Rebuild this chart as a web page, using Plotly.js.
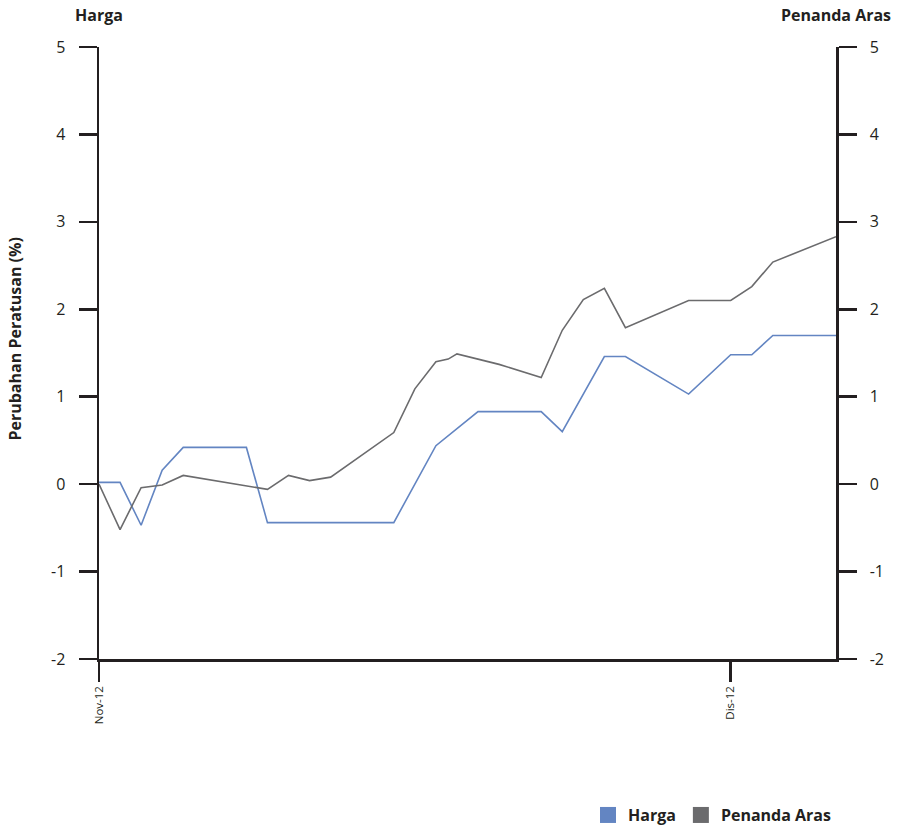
<!DOCTYPE html>
<html>
<head>
<meta charset="utf-8">
<script src="https://cdn.plot.ly/plotly-3.0.1.min.js"></script>
<style>html,body{margin:0;padding:0;background:#fff;}#chart{width:898px;height:829px;}</style>
</head>
<body>
<div id="chart"></div>
<script>
const hargaDates = ['2012-11-01','2012-11-02','2012-11-03','2012-11-04','2012-11-05','2012-11-08','2012-11-09','2012-11-15','2012-11-17','2012-11-19','2012-11-22','2012-11-23','2012-11-25','2012-11-26','2012-11-29','2012-12-01','2012-12-02','2012-12-03','2012-12-06'];
const hargaValues = [0.02,0.02,-0.47,0.16,0.42,0.42,-0.44,-0.44,0.44,0.83,0.83,0.60,1.46,1.46,1.03,1.48,1.48,1.70,1.70];

const arasDates = ['2012-11-01','2012-11-02','2012-11-03','2012-11-04','2012-11-05','2012-11-09','2012-11-10','2012-11-11','2012-11-12','2012-11-15','2012-11-16','2012-11-17','2012-11-17 14:00','2012-11-18','2012-11-20','2012-11-22','2012-11-23','2012-11-24','2012-11-25','2012-11-26','2012-11-29','2012-12-01','2012-12-02','2012-12-03','2012-12-06'];
const arasValues = [0.00,-0.52,-0.04,-0.01,0.10,-0.06,0.10,0.04,0.08,0.59,1.09,1.40,1.43,1.49,1.37,1.22,1.76,2.11,2.24,1.79,2.10,2.10,2.26,2.54,2.83];

const xTickVals = ['2012-11-01','2012-12-01'];
const xTickText = ['Nov-12','Dis-12'];
const yTickVals = [-2,-1,0,1,2,3,4,5];
const yTickText = ['-2','-1','0','1','2','3','4','5'];

const seriesNames = ['Harga','Penanda Aras'];
const colors = ['#6385c2','#6b6b6d'];

const FONT = 'Open Sans, Noto Sans, sans-serif';
const axisColor = '#231f20';

const traces = [
  {x: hargaDates, y: hargaValues, type:'scatter', mode:'lines', name: seriesNames[0],
   line:{color:colors[0], width:1.6}, showlegend:false, yaxis:'y'},
  {x: arasDates, y: arasValues, type:'scatter', mode:'lines', name: seriesNames[1],
   line:{color:colors[1], width:1.6}, showlegend:false, yaxis:'y2'},
  {x:[null], y:[null], type:'scatter', mode:'markers', name: seriesNames[0],
   marker:{symbol:'square', size:17, color:colors[0]}, showlegend:true},
  {x:[null], y:[null], type:'scatter', mode:'markers', name: seriesNames[1],
   marker:{symbol:'square', size:17, color:colors[1]}, showlegend:true}
];

const yCommon = {
  range:[-2,5], tickvals:yTickVals, ticktext:yTickText, showgrid:false, zeroline:false,
  showline:true, linecolor:axisColor, linewidth:2.5, automargin:false,
  ticks:'outside', ticklen:18, tickwidth:2.5, tickcolor:axisColor,
  tickfont:{family:FONT, size:16, color:'#231f20'}, ticklabelstandoff:10
};

const layout = {
  width:898, height:829,
  margin:{l:99, r:62, t:47, b:170, autoexpand:false},
  paper_bgcolor:'#fff', plot_bgcolor:'#fff',
  showlegend:true,
  legend:{orientation:'h', x:1.0, xanchor:'right', y:-0.255, yanchor:'middle',
          font:{family:FONT, size:16, color:'#231f20', weight:'bold'}, itemwidth:30, tracegroupgap:0},
  xaxis:{type:'date', range:['2012-11-01','2012-12-06'], tickvals:xTickVals, ticktext:xTickText,
         tickangle:-90, showgrid:false, zeroline:false, showline:true, linecolor:axisColor, linewidth:2.5,
         ticks:'outside', ticklen:20, tickwidth:2.5, tickcolor:axisColor, automargin:false,
         tickfont:{family:FONT, size:11.5, color:'#231f20'}},
  yaxis:Object.assign({}, yCommon, {side:'left'}),
  yaxis2:Object.assign({}, yCommon, {side:'right', overlaying:'y'}),
  annotations:[
    {text:'Harga', xref:'paper', yref:'paper', x:0, y:1, yshift:32, xanchor:'center', yanchor:'middle', showarrow:false,
     font:{family:FONT, size:16, color:'#231f20', weight:'bold'}},
    {text:'Penanda Aras', xref:'paper', yref:'paper', x:1, y:1, yshift:32, xanchor:'center', yanchor:'middle', showarrow:false,
     font:{family:FONT, size:16, color:'#231f20', weight:'bold'}},
    {text:'Perubahan Peratusan (%)', xref:'paper', yref:'paper', x:0, xshift:-84, y:0.522, textangle:-90,
     xanchor:'center', yanchor:'middle', showarrow:false,
     font:{family:FONT, size:16, color:'#231f20', weight:'bold'}}
  ]
};

Plotly.newPlot('chart', traces, layout, {displayModeBar:false, staticPlot:true});
</script>
</body>
</html>
